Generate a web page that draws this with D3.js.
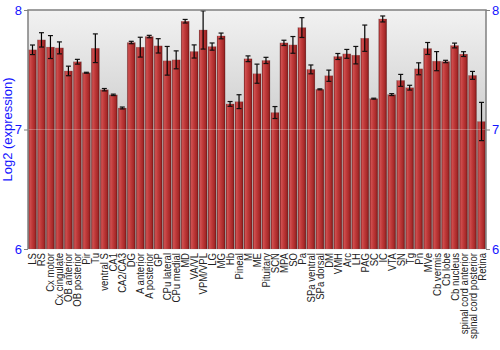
<!DOCTYPE html>
<html>
<head>
<meta charset="utf-8">
<script src="https://cdn.jsdelivr.net/npm/d3@7"></script>
<style>
  body { margin: 0; background: #fff; }
  svg { display: block; font-family: "Liberation Sans", Arial, sans-serif; }
</style>
</head>
<body>
<div id="chart"></div>
<script>
const regions = ["LS", "RS", "Cx motor", "Cx cingulate", "OB anterior", "OB posterior", "Pir", "Tu",
  "ventral S", "CA1", "CA2/CA3", "DG", "A anterior", "A posterior", "GP", "CPu lateral", "CPu medial",
  "MD", "VA/VL", "VPM/VPL", "LG", "MG", "Hb", "Pineal", "M", "ME", "Pituitary", "SCN", "MPA", "SO",
  "Pa", "SPa ventral", "SPa dorsal", "DM", "VMH", "Arc", "LH", "PAG", "SC", "IC", "VTA", "SN", "Tg",
  "Pn", "MVe", "Cb vermis", "Cb lobe", "Cb nucleus", "spinal cord anterior", "spinal cord posterior", "Retina"];

const expression = [7.667, 7.75, 7.69, 7.683, 7.49, 7.567, 7.475, 7.68,
  7.333, 7.29, 7.18, 7.728, 7.689, 7.778, 7.7, 7.575, 7.583,
  7.906, 7.653, 7.833, 7.694, 7.783, 7.214, 7.233, 7.592, 7.467, 7.578, 7.142, 7.725, 7.708,
  7.853, 7.503, 7.336, 7.45, 7.611, 7.633, 7.622, 7.764, 7.258, 7.925, 7.292, 7.411, 7.35,
  7.508, 7.678, 7.572, 7.569, 7.703, 7.631, 7.453, 7.067];

const stdErr = [0.04, 0.06, 0.096, 0.05, 0.04, 0.02, 0.004, 0.12,
  0.01, 0.006, 0.008, 0.01, 0.083, 0.01, 0.06, 0.12, 0.075,
  0.015, 0.055, 0.16, 0.03, 0.024, 0.02, 0.058, 0.024, 0.08, 0.026, 0.05, 0.022, 0.07,
  0.083, 0.037, 0.004, 0.047, 0.025, 0.037, 0.073, 0.11, 0.004, 0.025, 0.008, 0.05, 0.02,
  0.05, 0.05, 0.08, 0.01, 0.02, 0.02, 0.033, 0.16];

const yTicks = [6, 7, 8];

const width = 500, height = 350;
const margin = { top: 10, right: 14, bottom: 101, left: 28 };
const innerW = width - margin.left - margin.right;
const innerH = height - margin.top - margin.bottom;

const svg = d3.select("#chart").append("svg")
  .attr("width", width)
  .attr("height", height);

const defs = svg.append("defs");

const bg = defs.append("linearGradient")
  .attr("id", "bgGrad")
  .attr("x1", 0).attr("y1", 0).attr("x2", 0).attr("y2", 1);
bg.append("stop").attr("offset", "0%").attr("stop-color", "#f2f2f2");
bg.append("stop").attr("offset", "100%").attr("stop-color", "#a8a8a8");

const barGrad = defs.append("linearGradient")
  .attr("id", "barGrad")
  .attr("x1", 0).attr("y1", 0).attr("x2", 1).attr("y2", 0);
[["0%", "#7c1818"], ["18%", "#cf5050"], ["45%", "#c03a3a"], ["80%", "#a52828"], ["100%", "#6c1212"]]
  .forEach(s => barGrad.append("stop").attr("offset", s[0]).attr("stop-color", s[1]));

const g = svg.append("g")
  .attr("transform", `translate(${margin.left},${margin.top})`);

const x = d3.scaleBand()
  .domain(regions)
  .range([0, innerW])
  .paddingInner(0.1)
  .paddingOuter(0.05);

const y = d3.scaleLinear()
  .domain([6, 8])
  .range([innerH, 0]);

g.append("rect")
  .attr("width", innerW)
  .attr("height", innerH)
  .attr("fill", "url(#bgGrad)");

// bars
g.append("g")
  .selectAll("rect")
  .data(regions)
  .join("rect")
  .attr("x", d => x(d))
  .attr("y", (d, i) => y(expression[i]))
  .attr("width", x.bandwidth())
  .attr("height", (d, i) => innerH - y(expression[i]))
  .attr("fill", "url(#barGrad)")
  .attr("stroke", "rgba(120,120,120,0.35)")
  .attr("stroke-width", 0.5);

// faint gridline at 7
g.append("line")
  .attr("x1", 0).attr("x2", innerW)
  .attr("y1", y(7)).attr("y2", y(7))
  .attr("stroke", "rgba(255,255,255,0.25)")
  .attr("stroke-width", 1);

// error bars
const err = g.append("g")
  .selectAll("g")
  .data(regions)
  .join("g")
  .attr("transform", d => `translate(${x(d) + x.bandwidth() / 2},0)`);

err.append("line")
  .attr("y1", (d, i) => y(expression[i] + stdErr[i]))
  .attr("y2", (d, i) => y(expression[i] - stdErr[i]))
  .attr("stroke", "#000")
  .attr("stroke-width", 1.2);

[1, -1].forEach(sign => {
  err.append("line")
    .attr("x1", -2.5).attr("x2", 2.5)
    .attr("y1", (d, i) => y(expression[i] + sign * stdErr[i]))
    .attr("y2", (d, i) => y(expression[i] + sign * stdErr[i]))
    .attr("stroke", "#111")
    .attr("stroke-width", 1.2);
});

// frame
g.append("path")
  .attr("d", `M0,${innerH}V0H${innerW}V${innerH}`)
  .attr("fill", "none")
  .attr("stroke", "#808080")
  .attr("stroke-width", 1.5);

// y axes
const leftAxis = g.append("g")
  .call(d3.axisLeft(y).tickValues(yTicks).tickFormat(d3.format("d")).tickSize(4).tickPadding(2));
const rightAxis = g.append("g")
  .attr("transform", `translate(${innerW},0)`)
  .call(d3.axisRight(y).tickValues(yTicks).tickFormat(d3.format("d")).tickSize(4).tickPadding(2));

[leftAxis, rightAxis].forEach(ax => {
  ax.select(".domain").remove();
  ax.selectAll(".tick line").attr("stroke", "#808080");
  ax.selectAll("text")
    .attr("fill", "#1515ff")
    .style("font-size", "13px")
    .style("font-family", "\"Liberation Sans\", Arial, sans-serif");
});

// x labels (narrow, like the reference)
g.append("g")
  .selectAll("text")
  .data(regions)
  .join("text")
  .attr("transform", d => `translate(${x(d) + x.bandwidth() / 2 + 4},${innerH + 4}) rotate(-90) scale(0.87,1)`)
  .attr("text-anchor", "end")
  .attr("fill", "#222")
  .style("font-size", "11px")
  .text(d => d);

// y label
svg.append("text")
  .attr("transform", `translate(12,${margin.top + innerH / 2}) rotate(-90)`)
  .attr("text-anchor", "middle")
  .attr("fill", "#1515ff")
  .style("font-size", "13px")
  .text("Log2 (expression)");
</script>
</body>
</html>
